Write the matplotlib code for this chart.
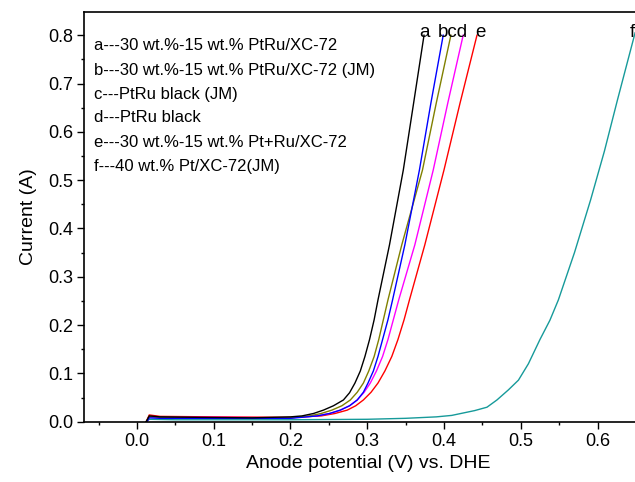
import matplotlib
matplotlib.use("Agg")
import matplotlib.pyplot as plt
from matplotlib.ticker import MultipleLocator

plt.rcParams['font.family'] = ['Liberation Sans', 'DejaVu Sans']

# potential (V) / current (A)
v_a = [0.012, 0.016, 0.03, 0.08, 0.15, 0.200, 0.215, 0.230, 0.243, 0.256, 0.269, 0.277, 0.284, 0.291, 0.297, 0.303, 0.309, 0.314, 0.329, 0.347, 0.360, 0.374]
i_a = [0.000, 0.012, 0.010, 0.009, 0.008, 0.010, 0.012, 0.017, 0.024, 0.033, 0.045, 0.060, 0.080, 0.105, 0.135, 0.170, 0.211, 0.252, 0.366, 0.521, 0.655, 0.800]

v_b = [0.013, 0.016, 0.03, 0.10, 0.200, 0.235, 0.251, 0.265, 0.277, 0.287, 0.295, 0.301, 0.308, 0.314, 0.320, 0.327, 0.333, 0.349, 0.368, 0.383, 0.399]
i_b = [0.000, 0.008, 0.007, 0.007, 0.007, 0.012, 0.017, 0.024, 0.033, 0.045, 0.061, 0.080, 0.105, 0.135, 0.170, 0.211, 0.252, 0.366, 0.521, 0.660, 0.800]

v_c = [0.012, 0.016, 0.03, 0.10, 0.200, 0.225, 0.240, 0.254, 0.267, 0.278, 0.287, 0.295, 0.302, 0.309, 0.315, 0.321, 0.327, 0.345, 0.372, 0.390, 0.409]
i_c = [0.000, 0.011, 0.009, 0.008, 0.008, 0.012, 0.017, 0.024, 0.033, 0.045, 0.061, 0.080, 0.105, 0.135, 0.170, 0.211, 0.252, 0.366, 0.521, 0.660, 0.800]

v_d = [0.013, 0.016, 0.03, 0.10, 0.200, 0.235, 0.251, 0.265, 0.277, 0.287, 0.296, 0.304, 0.312, 0.320, 0.327, 0.334, 0.341, 0.362, 0.386, 0.405, 0.425]
i_d = [0.000, 0.010, 0.009, 0.009, 0.008, 0.012, 0.017, 0.024, 0.033, 0.045, 0.061, 0.080, 0.105, 0.135, 0.170, 0.211, 0.252, 0.366, 0.521, 0.660, 0.800]

v_e = [0.012, 0.016, 0.03, 0.10, 0.200, 0.240, 0.258, 0.274, 0.285, 0.295, 0.305, 0.314, 0.323, 0.332, 0.340, 0.348, 0.355, 0.375, 0.400, 0.421, 0.443]
i_e = [0.000, 0.014, 0.011, 0.010, 0.009, 0.012, 0.017, 0.024, 0.033, 0.045, 0.061, 0.080, 0.105, 0.135, 0.170, 0.211, 0.252, 0.366, 0.521, 0.660, 0.800]

v_f = [0.012, 0.016, 0.05, 0.10, 0.20, 0.30, 0.35, 0.39, 0.41, 0.425, 0.44, 0.456, 0.469, 0.484, 0.497, 0.510, 0.525, 0.538, 0.549, 0.570, 0.591, 0.609, 0.626, 0.649]
i_f = [0.000, 0.005, 0.004, 0.004, 0.004, 0.005, 0.007, 0.010, 0.013, 0.018, 0.023, 0.030, 0.045, 0.066, 0.086, 0.120, 0.170, 0.210, 0.252, 0.350, 0.459, 0.560, 0.666, 0.805]

legend_lines = [
    "a---30 wt.%-15 wt.% PtRu/XC-72",
    "b---30 wt.%-15 wt.% PtRu/XC-72 (JM)",
    "c---PtRu black (JM)",
    "d---PtRu black",
    "e---30 wt.%-15 wt.% Pt+Ru/XC-72",
    "f---40 wt.% Pt/XC-72(JM)",
]
curve_tags = ["a", "bcd", "e", "f"]
tag_x = [0.374, 0.411, 0.447, 0.645]

W, H = 635, 482
fig = plt.figure(figsize=(W / 100, H / 100), dpi=100)
ax = fig.add_axes([84 / W, 1 - 421.7 / H, (652 - 84) / W, (421.7 - 12) / H])

ax.plot(v_f, i_f, color='#169a9a', lw=1.0)
ax.plot(v_e, i_e, color='#ff0000', lw=1.0)
ax.plot(v_d, i_d, color='#ff00ff', lw=1.0)
ax.plot(v_c, i_c, color='#808000', lw=1.0)
ax.plot(v_b, i_b, color='#0000ff', lw=1.0)
ax.plot(v_a, i_a, color='#000000', lw=1.0)

ax.set_xlim(-0.069, 0.671)
ax.set_ylim(0.0, 0.848)

ax.xaxis.set_major_locator(MultipleLocator(0.1))
ax.xaxis.set_minor_locator(MultipleLocator(0.05))
ax.yaxis.set_major_locator(MultipleLocator(0.1))
ax.yaxis.set_minor_locator(MultipleLocator(0.05))
ax.xaxis.set_major_formatter(plt.FuncFormatter(lambda v, p: f"{v:.1f}"))
ax.yaxis.set_major_formatter(plt.FuncFormatter(lambda v, p: f"{v:.1f}"))

ax.tick_params(which='major', direction='out', length=5, width=1.0, labelsize=13, pad=3)
ax.tick_params(which='minor', direction='out', length=2.5, width=1.0)
ax.tick_params(top=False, right=False)
ax.spines['right'].set_visible(False)
for s in ['left', 'bottom', 'top']:
    ax.spines[s].set_linewidth(1.2)

ax.set_xlabel("Anode potential (V) vs. DHE", fontsize=14, labelpad=4)
ax.set_ylabel("Current (A)", fontsize=14, labelpad=8)

# legend text block (pixel positions from the top-left corner)
for k, line in enumerate(legend_lines):
    fig.text(94 / W, 1 - (46 + k * 24.0) / H, line, fontsize=12,
             ha='left', va='center')

# curve tags along the top
for tag, x in zip(curve_tags, tag_x):
    ax.text(x, 0.796, tag, fontsize=13.5, ha='center', va='baseline')

fig.savefig("out.png", dpi=100)
